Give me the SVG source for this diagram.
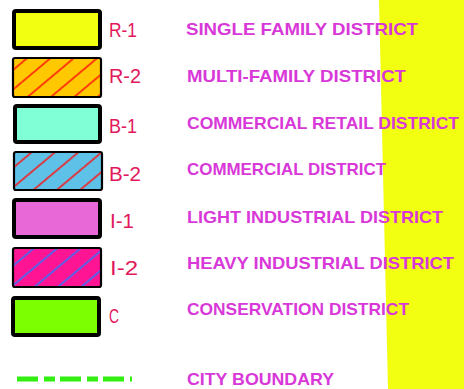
<svg xmlns="http://www.w3.org/2000/svg" width="464" height="389" viewBox="0 0 464 389">
<style>
.thick{stroke:#000;stroke-width:4}
.thin{stroke:#000;stroke-width:2.2}
.code{font-family:"Liberation Sans",Arial,sans-serif;font-size:20px;fill:#e2175c}
.desc{font-family:"Liberation Sans",Arial,sans-serif;font-weight:bold;font-size:17px;fill:#d838d8}
</style>
<defs>
<pattern id="hr" patternUnits="userSpaceOnUse" width="15" height="15" patternTransform="rotate(50)">
<line x1="2" y1="0" x2="2" y2="15" stroke="#ff1010" stroke-width="1.5"/>
</pattern>
<pattern id="hb" patternUnits="userSpaceOnUse" width="15" height="15" patternTransform="rotate(50)">
<line x1="2" y1="0" x2="2" y2="15" stroke="#2a78ff" stroke-width="1.5"/>
</pattern>
</defs>
<polygon points="379,0 464,0 464,389 388,389" fill="#f2ff10"/>
<g id="r1"><rect x="14" y="11" width="86" height="37" rx="2" fill="#f2ff10" class="thick"/><text class="code" x="109" y="37" textLength="28" lengthAdjust="spacingAndGlyphs">R-1</text><text class="desc" x="186" y="35" textLength="232" lengthAdjust="spacingAndGlyphs">SINGLE FAMILY DISTRICT</text></g>
<g id="r2"><rect x="13" y="58" width="88" height="39" rx="2" fill="#ffc800" class="thin"/><rect x="14" y="59" width="86" height="37" fill="url(#hr)"/><text class="code" x="109" y="83" textLength="32" lengthAdjust="spacingAndGlyphs">R-2</text><text class="desc" x="187" y="82" textLength="219" lengthAdjust="spacingAndGlyphs">MULTI-FAMILY DISTRICT</text></g>
<g id="b1"><rect x="15" y="106" width="85" height="36" rx="2" fill="#80ffd6" class="thick"/><text class="code" x="109" y="133" textLength="28" lengthAdjust="spacingAndGlyphs">B-1</text><text class="desc" x="187" y="129" textLength="272" lengthAdjust="spacingAndGlyphs">COMMERCIAL RETAIL DISTRICT</text></g>
<g id="b2"><rect x="14" y="152" width="88" height="38" rx="2" fill="#5ec2e8" class="thin"/><rect x="15" y="153" width="86" height="36" fill="url(#hr)"/><text class="code" x="109" y="181" textLength="32" lengthAdjust="spacingAndGlyphs">B-2</text><text class="desc" x="187" y="175" textLength="199" lengthAdjust="spacingAndGlyphs">COMMERCIAL DISTRICT</text></g>
<g id="i1"><rect x="14" y="200" width="86" height="37" rx="2" fill="#e868d8" class="thick"/><text class="code" x="110" y="228" textLength="24" lengthAdjust="spacingAndGlyphs">I-1</text><text class="desc" x="187" y="223" textLength="256" lengthAdjust="spacingAndGlyphs">LIGHT INDUSTRIAL DISTRICT</text></g>
<g id="i2"><rect x="13" y="248" width="88" height="39" rx="2" fill="#ff1493" class="thin"/><rect x="14" y="249" width="86" height="37" fill="url(#hb)"/><text class="code" x="110" y="275" textLength="28" lengthAdjust="spacingAndGlyphs">I-2</text><text class="desc" x="187" y="269" textLength="267" lengthAdjust="spacingAndGlyphs">HEAVY INDUSTRIAL DISTRICT</text></g>
<g id="c"><rect x="13" y="298" width="86" height="37" rx="2" fill="#7cff00" class="thick"/><text class="code" x="109" y="323" textLength="10" lengthAdjust="spacingAndGlyphs">C</text><text class="desc" x="187" y="315" textLength="222" lengthAdjust="spacingAndGlyphs">CONSERVATION DISTRICT</text></g>
<g id="boundary"><line x1="17" y1="379" x2="132" y2="379" stroke="#33ee11" stroke-width="5" stroke-dasharray="21 6 11 5"/><text class="desc" x="187" y="385" textLength="147" lengthAdjust="spacingAndGlyphs">CITY BOUNDARY</text></g>
</svg>
